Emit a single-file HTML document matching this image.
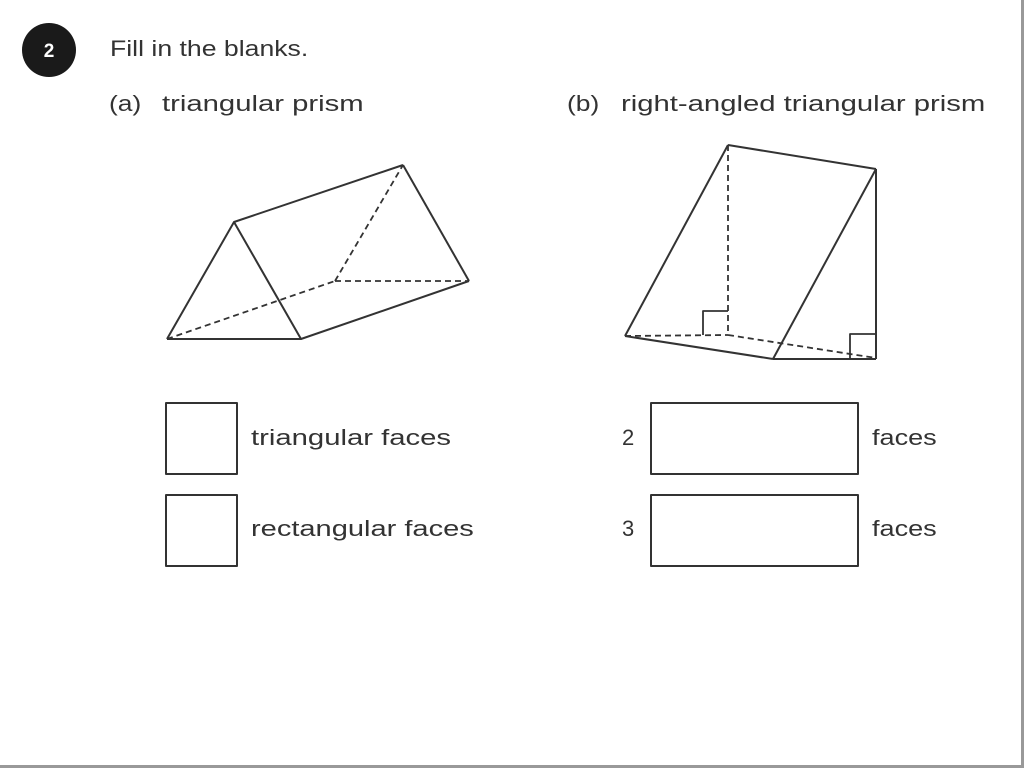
<!DOCTYPE html>
<html><head><style>
body{margin:0;width:1024px;height:768px;background:#fff;overflow:hidden;position:relative;font-family:"Liberation Sans",sans-serif;color:#333}
.t{position:absolute;font-size:22px;white-space:nowrap;line-height:1;transform:scaleX(1.32);transform-origin:0 0}
</style></head><body>
<svg width="1024" height="768" style="position:absolute;left:0;top:0">
<rect x="1021" y="0" width="3" height="768" fill="#999"/>
<rect x="0" y="765" width="1024" height="3" fill="#999"/>
<circle cx="49" cy="50" r="27" fill="#1a1a1a"/>
<text x="49" y="57" text-anchor="middle" font-family="Liberation Sans" font-weight="bold" font-size="19" fill="#fff">2</text>
<g stroke="#333" stroke-width="2" fill="none" stroke-linejoin="round">
<polyline points="167,339 234,222 301,339 167,339"/>
<line x1="234" y1="222" x2="403" y2="165"/>
<line x1="403" y1="165" x2="469" y2="281"/>
<line x1="301" y1="339" x2="469" y2="281"/>
<g stroke-dasharray="6,4" stroke-width="1.8">
<line x1="167" y1="339" x2="335" y2="281"/>
<line x1="335" y1="281" x2="469" y2="281"/>
<line x1="335" y1="281" x2="403" y2="165"/>
</g>
<line x1="728" y1="145" x2="876" y2="169"/>
<line x1="728" y1="145" x2="625" y2="336"/>
<line x1="876" y1="169" x2="773" y2="359"/>
<line x1="876" y1="169" x2="876" y2="359"/>
<line x1="625" y1="336" x2="773" y2="359"/>
<line x1="773" y1="359" x2="876" y2="359"/>
<g stroke-dasharray="6,4" stroke-width="1.8">
<line x1="728" y1="145" x2="728" y2="335"/>
<line x1="625" y1="336" x2="728" y2="335"/>
<line x1="728" y1="335" x2="876" y2="358"/>
</g>
<polyline points="703,335 703,311 728,311" stroke-width="1.8"/>
<polyline points="850,359 850,334 876,334" stroke-width="1.8"/>
<rect x="166" y="403" width="71" height="71"/>
<rect x="166" y="495" width="71" height="71"/>
<rect x="651" y="403" width="207" height="71"/>
<rect x="651" y="495" width="207" height="71"/>
</g>
</svg>
<div class="t" style="left:110px;top:38px;transform:scaleX(1.21)">Fill in the blanks.</div>
<div class="t" style="left:109px;top:93px;transform:scaleX(1.2)">(a)</div>
<div class="t" style="left:162px;top:93px;transform:scaleX(1.33)">triangular prism</div>
<div class="t" style="left:567px;top:93px;transform:scaleX(1.2)">(b)</div>
<div class="t" style="left:621px;top:93px;transform:scaleX(1.33)">right-angled triangular prism</div>
<div class="t" style="left:251px;top:427px;transform:scaleX(1.33)">triangular faces</div>
<div class="t" style="left:251px;top:518px;transform:scaleX(1.32)">rectangular faces</div>
<div class="t" style="left:622px;top:427px;transform:none">2</div>
<div class="t" style="left:622px;top:518px;transform:none">3</div>
<div class="t" style="left:872px;top:427px;transform:scaleX(1.23)">faces</div>
<div class="t" style="left:872px;top:518px;transform:scaleX(1.23)">faces</div>
</body></html>
